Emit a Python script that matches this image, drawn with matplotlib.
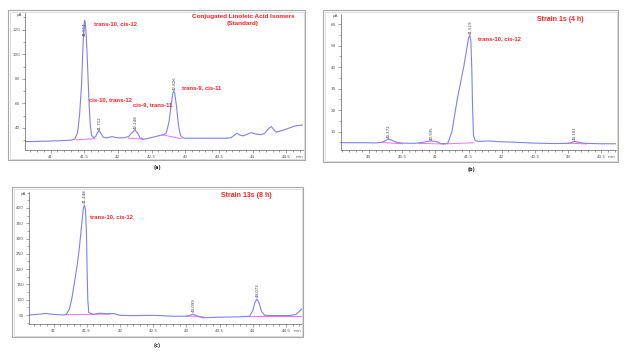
import matplotlib
matplotlib.use("Agg")
import matplotlib.pyplot as plt
from matplotlib.patches import Rectangle
from matplotlib.ticker import MultipleLocator

# ---------------- data ----------------
# Panel (a): CLA isomer standard
a_time = [40.62, 40.8, 41.0, 41.2, 41.3, 41.36, 41.40, 41.43, 41.46, 41.48, 41.495, 41.505,
          41.515, 41.53, 41.55, 41.57, 41.59, 41.61, 41.64, 41.67, 41.70, 41.72, 41.75,
          41.78, 41.82, 41.88, 41.92, 41.96, 42.02, 42.10, 42.16, 42.20, 42.25, 42.29,
          42.33, 42.38, 42.45, 42.55, 42.62, 42.68, 42.72, 42.76, 42.79, 42.815, 42.83,
          42.845, 42.87, 42.90, 42.93, 42.96, 43.0, 43.3, 43.6, 43.68, 43.74, 43.77, 43.82,
          43.86, 43.92, 43.98, 44.05, 44.12, 44.18, 44.24, 44.28, 44.31, 44.35, 44.45,
          44.55, 44.65, 44.75]
a_signal = [28.8, 29.0, 29.3, 29.7, 30.0, 31.0, 36.0, 50.0, 75.0, 105.0, 122.0, 127.6,
            126.0, 115.0, 90.0, 62.0, 42.0, 34.0, 32.0, 33.0, 36.5, 37.6, 35.5,
            32.5, 31.8, 32.5, 32.9, 32.2, 31.8, 32.0, 33.0, 35.5, 38.4, 36.0,
            32.0, 30.7, 31.5, 32.8, 33.8, 34.5, 36.0, 45.0, 58.0, 68.0, 70.0,
            68.0, 58.0, 42.0, 34.0, 32.0, 31.6, 31.6, 31.6, 32.0, 34.5, 35.6, 34.0,
            33.5, 34.8, 36.2, 35.0, 34.5, 35.5, 39.5, 41.1, 39.0, 36.5, 38.0,
            40.0, 41.8, 42.4]
a_base_segments = [([41.38, 41.66], [30.3, 31.2]), ([42.16, 42.38], [31.6, 30.8]),
                   ([42.66, 42.94], [34.4, 31.2])]
a_peak_rt = [41.50, 41.72, 42.25, 42.83]
a_peak_h = [114.0, 37.6, 38.4, 70.0]
a_peak_lbl = ["41.514", "41.712", "42.248", "42.826"]

# Panel (b): Strain 1s (4 h)
b_time = [39.58, 39.9, 40.1, 40.2, 40.25, 40.29, 40.34, 40.4, 40.5, 40.7, 40.8, 40.9,
          40.95, 41.02, 41.08, 41.14, 41.19, 41.25, 41.33, 41.43, 41.47, 41.50, 41.52,
          41.535, 41.55, 41.56, 41.575, 41.6, 41.65, 41.8, 41.95, 42.2, 42.5, 42.8, 43.0,
          43.05, 43.1, 43.15, 43.25, 43.5, 43.72]
b_signal = [4.8, 4.8, 4.7, 5.0, 5.8, 6.4, 6.0, 5.1, 4.6, 4.5, 4.9, 5.5,
            5.6, 5.3, 4.4, 4.3, 4.6, 10.0, 25.0, 40.5, 48.0, 53.5, 54.8,
            52.0, 38.0, 22.0, 8.0, 5.8, 5.4, 5.6, 5.3, 5.0, 4.6, 4.4, 4.5,
            4.9, 5.4, 5.0, 4.5, 4.3, 4.3]
b_base_segments = [([40.2, 40.5], [4.9, 4.3]), ([40.75, 41.12], [4.5, 4.2]),
                   ([41.12, 41.58], [4.2, 4.8]), ([43.0, 43.28], [4.6, 4.2])]
b_peak_rt = [40.29, 40.93, 41.52, 43.09]
b_peak_h = [6.4, 5.6, 54.8, 5.4]
b_peak_lbl = ["40.272", "40.935", "41.519", "43.101"]

# Panel (c): Strain 13s (8 h)
c_time = [40.63, 40.8, 40.88, 41.0, 41.15, 41.19, 41.24, 41.28, 41.32, 41.36, 41.39,
          41.43, 41.45, 41.465, 41.48, 41.495, 41.505, 41.515, 41.53, 41.6, 41.7, 41.8,
          41.9, 42.0, 42.2, 42.5, 42.8, 43.0, 43.05, 43.1, 43.16, 43.25, 43.5, 43.8,
          43.95, 44.0, 44.03, 44.06, 44.09, 44.13, 44.18, 44.3, 44.55, 44.65, 44.74]
c_signal = [50, 53, 55, 52, 50, 52, 70, 110, 164, 220, 273,
            360, 400, 409, 395, 320, 200, 100, 58, 52, 56, 54,
            55, 49, 48, 49, 46, 46, 48, 53, 47, 41, 43, 44,
            46, 65, 90, 102, 92, 62, 49, 48, 48, 52, 70]
c_base_segments = [([41.19, 41.85], [51, 53]), ([43.0, 43.26], [47, 44]),
                   ([43.93, 44.74], [46, 46])]
c_peak_rt = [41.46, 43.1, 44.06]
c_peak_h = [409, 53, 102]
c_peak_lbl = ["41.448", "43.099", "44.073"]

x_ticks_a = [41, 41.5, 42, 42.5, 43, 43.5, 44, 44.5]
x_lbls_a = ["41", "41.5", "42", "42.5", "43", "43.5", "44", "44.5"]
x_ticks_b = [40, 40.5, 41, 41.5, 42, 42.5, 43, 43.5]
x_lbls_b = ["40", "40.5", "41", "41.5", "42", "42.5", "43", "43.5"]
y_ticks_a = [40, 60, 80, 100, 120]
y_ticks_b = [10, 20, 30, 40, 50, 60]
y_ticks_c = [50, 100, 150, 200, 250, 300, 350, 400]

LINE = "#8080f4"
BASE = "#f070f0"
RED = "#ff2020"
W, H = 628, 358

fig = plt.figure(figsize=(W / 100, H / 100), dpi=100)
fig.patch.set_facecolor("white")


def px_axes(l, r, t, b):
    return fig.add_axes([l / W, (H - b) / H, (r - l) / W, (b - t) / H])


def frame(l, r, t, b):
    fig.patches.append(Rectangle((l / W, (H - b) / H), (r - l) / W, (b - t) / H,
                                 transform=fig.transFigure, fill=False,
                                 edgecolor="#a8a8a8", lw=0.8))
    fig.patches.append(Rectangle(((l + 1.5) / W, (H - b + 1.5) / H), (r - l - 3) / W,
                                 (b - t - 3) / H, transform=fig.transFigure,
                                 fill=False, edgecolor="#d0d0d0", lw=0.5))


def style(ax, xlim, ylim, xt, xl, yt, yminor):
    ax.set_xlim(*xlim)
    ax.set_ylim(*ylim)
    ax.set_xticks(xt)
    ax.set_xticklabels(xl)
    ax.set_yticks(yt)
    ax.set_yticklabels([str(v) for v in yt])
    ax.xaxis.set_minor_locator(MultipleLocator(0.1))
    ax.yaxis.set_minor_locator(MultipleLocator(yminor))
    for s in ["top", "right"]:
        ax.spines[s].set_visible(False)
    for s in ["left", "bottom"]:
        ax.spines[s].set_color("#606060")
        ax.spines[s].set_linewidth(0.5)
    ax.tick_params(which="both", direction="out", colors="#606060", width=0.4,
                   labelsize=3, labelcolor="#555555", pad=1.5)
    ax.tick_params(which="major", length=2.2)
    ax.tick_params(which="minor", length=1.2)
    ax.text(-0.012, 1.0, "pA", transform=ax.transAxes, ha="right", va="top",
            fontsize=3, color="#555555")
    ax.text(1.0, -0.035, "min", transform=ax.transAxes, ha="right", va="top",
            fontsize=3, color="#555555")


def draw(ax, t, s, segs, rts, hs, lbls, off):
    for sx, sy in segs:
        ax.plot(sx, sy, color=BASE, lw=0.7)
    ax.plot(t, s, color=LINE, lw=0.8)
    for rt, h, lb in zip(rts, hs, lbls):
        ax.text(rt + 0.012, h + off, lb, rotation=90, ha="center", va="bottom",
                fontsize=2.8, color="#404040")


txt = dict(color=RED, fontweight="bold", family="Liberation Sans")

# ---- panel (a)
frame(8, 305, 10, 160)
ax1 = px_axes(25, 303, 13, 150)
style(ax1, (40.62, 44.75), (22.0, 133.6), x_ticks_a, x_lbls_a, y_ticks_a, 10)
draw(ax1, a_time, a_signal, a_base_segments, a_peak_rt, a_peak_h, a_peak_lbl, 1.0)
ax1.text(41.65, 124.6, "trans-10, cis-12", fontsize=4.2, va="center", **txt)
ax1.text(41.57, 62.7, "cis-10, trans-12", fontsize=4.2, va="center", **txt)
ax1.text(42.23, 58.6, "cis-9, trans-11", fontsize=4.2, va="center", **txt)
ax1.text(42.95, 72.5, "trans-9, cis-11", fontsize=4.2, va="center", **txt)
ax1.text(43.86, 127.8, "Conjugated Linoleic Acid Isomers\n(Standard)", fontsize=4.6,
         ha="center", va="center", linespacing=1.45, **txt)
fig.text(157 / W, 1 - 168 / H, "(a)", fontsize=3.5, fontweight="bold",
         ha="center", va="center", color="#222222")

# ---- panel (b)
frame(323, 618, 10, 162)
ax2 = px_axes(341, 616, 14, 150)
style(ax2, (39.58, 43.72), (1.4, 64.7), x_ticks_b, x_lbls_b, y_ticks_b, 5)
draw(ax2, b_time, b_signal, b_base_segments, b_peak_rt, b_peak_h, b_peak_lbl, 0.6)
ax2.text(41.64, 53.0, "trans-10, cis-12", fontsize=4.2, va="center", **txt)
ax2.text(42.88, 62.2, "Strain 1s (4 h)", fontsize=5, ha="center", va="center", **txt)
fig.text(471 / W, 1 - 170 / H, "(b)", fontsize=3.5, fontweight="bold",
         ha="center", va="center", color="#222222")

# ---- panel (c)
frame(12, 303, 187, 337)
ax3 = px_axes(29, 302, 192, 324)
style(ax3, (40.63, 44.74), (20.6, 452), x_ticks_a, x_lbls_a, y_ticks_c, 25)
draw(ax3, c_time, c_signal, c_base_segments, c_peak_rt, c_peak_h, c_peak_lbl, 8)
ax3.text(41.55, 370, "trans-10, cis-12", fontsize=4.2, va="center", **txt)
ax3.text(43.9, 440, "Strain 13s (8 h)", fontsize=5, ha="center", va="center", **txt)
fig.text(157 / W, 1 - 346 / H, "(c)", fontsize=3.5, fontweight="bold",
         ha="center", va="center", color="#222222")

fig.savefig("out.png", dpi=100, facecolor="white")
